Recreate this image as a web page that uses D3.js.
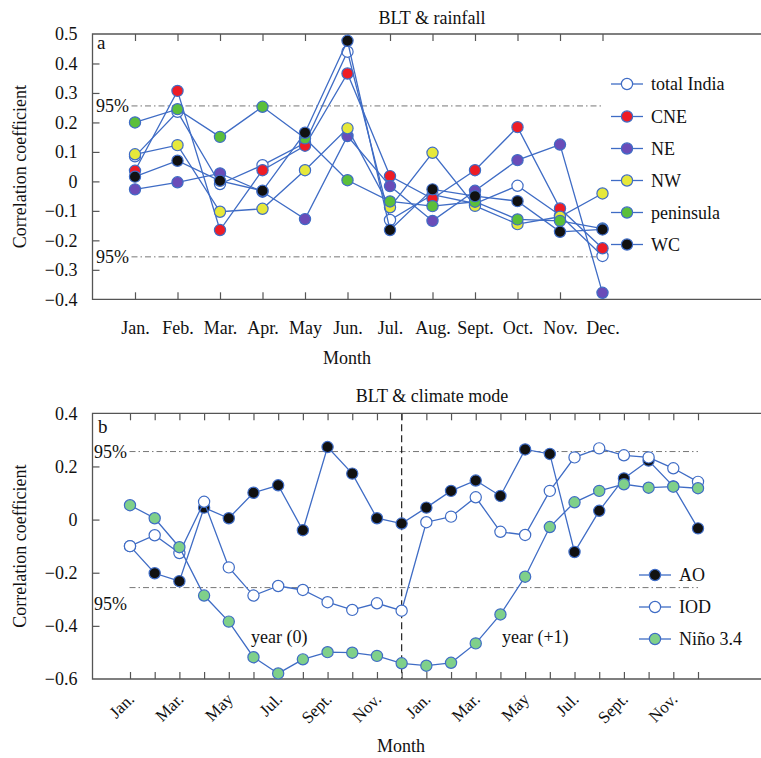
<!DOCTYPE html>
<html>
<head>
<meta charset="utf-8">
<script src="https://cdn.jsdelivr.net/npm/d3@7"></script>
<style>
  body { margin: 0; background: #fff; }
  svg text { font-family: "Liberation Serif", "DejaVu Serif", serif; fill: #111; }
</style>
</head>
<body>
<svg id="chart" width="761" height="758" font-family="Liberation Serif, serif"></svg>
<script>
// ---- panel a data: BLT & rainfall ----
var monthsA = ["Jan.", "Feb.", "Mar.", "Apr.", "May", "Jun.", "Jul.", "Aug.", "Sept.", "Oct.", "Nov.", "Dec."];
var totalIndia = [0.085, 0.236, -0.009, 0.055, 0.13, 0.44, -0.131, -0.045, -0.075, -0.015, -0.115, -0.253];
var CNE = [0.036, 0.307, -0.165, 0.038, 0.121, 0.366, 0.018, -0.059, 0.038, 0.184, -0.092, -0.227];
var NE = [-0.027, -0.003, 0.027, -0.035, -0.128, 0.154, -0.016, -0.134, -0.032, 0.072, 0.125, -0.378];
var NW = [0.092, 0.123, -0.103, -0.093, 0.038, 0.18, -0.088, 0.097, -0.083, -0.145, -0.12, -0.041];
var peninsula = [0.20, 0.245, 0.151, 0.253, 0.146, 0.004, -0.068, -0.084, -0.069, -0.129, -0.134, -0.16];
var WC = [0.016, 0.07, 0.002, -0.032, 0.165, 0.477, -0.165, -0.027, -0.05, -0.067, -0.171, -0.163];
var yTicksA = [-0.4, -0.3, -0.2, -0.1, 0, 0.1, 0.2, 0.3, 0.4, 0.5];
var yLabelsA = ["\u22120.4", "\u22120.3", "\u22120.2", "\u22120.1", "0", "0.1", "0.2", "0.3", "0.4", "0.5"];

// ---- panel b data: BLT & climate mode (year 0 then year +1) ----
var monthLabelsB = ["Jan.", "Mar.", "May", "Jul.", "Sept.", "Nov.", "Jan.", "Mar.", "May", "Jul.", "Sept.", "Nov."];
var AO = [-0.10, -0.202, -0.232, 0.045, 0.005, 0.101, 0.129, -0.040, 0.273, 0.173, 0.005, -0.015,
          0.045, 0.108, 0.147, 0.089, 0.264, 0.247, -0.122, 0.033, 0.155, 0.222, 0.125, -0.033];
var IOD = [-0.10, -0.059, -0.126, 0.067, -0.180, -0.286, -0.250, -0.265, -0.311, -0.340, -0.315, -0.343,
           -0.010, 0.011, 0.084, -0.046, -0.058, 0.108, 0.234, 0.268, 0.242, 0.234, 0.193, 0.142];
var nino34 = [0.054, 0.005, -0.104, -0.286, -0.384, -0.518, -0.579, -0.526, -0.499, -0.501, -0.513, -0.541,
              -0.550, -0.539, -0.466, -0.357, -0.215, -0.028, 0.065, 0.108, 0.133, 0.120, 0.124, 0.118];
var yTicksB = [-0.6, -0.4, -0.2, 0, 0.2, 0.4];
var yLabelsB = ["\u22120.6", "\u22120.4", "\u22120.2", "0", "0.2", "0.4"];
var sig95 = 0.256;

var lineBlue = "#3f6cc5";
var svg = d3.select("#chart");

function frame(g, left, top, bottom) {
  g.append("path")
    .attr("d", "M800," + top + "H" + left + "V" + bottom + "H800")
    .attr("fill", "none").attr("stroke", "#555").attr("stroke-width", 1.3);
}

function series(g, x, y, vals, xs, fill) {
  var line = d3.line().x(function(d, i) { return x(xs[i]); }).y(function(d) { return y(d); });
  g.append("path").datum(vals).attr("d", line)
    .attr("fill", "none").attr("stroke", lineBlue).attr("stroke-width", 1.3);
  g.selectAll(null).data(vals).enter().append("circle")
    .attr("cx", function(d, i) { return x(xs[i]); })
    .attr("cy", function(d) { return y(d); })
    .attr("r", 5.6)
    .attr("fill", fill).attr("stroke", lineBlue).attr("stroke-width", 1.2);
}

function legend(g, x0, rows) {
  rows.forEach(function(r) {
    g.append("line").attr("x1", x0).attr("x2", x0 + 32).attr("y1", r.y).attr("y2", r.y)
      .attr("stroke", lineBlue).attr("stroke-width", 1.3);
    g.append("circle").attr("cx", x0 + 16).attr("cy", r.y).attr("r", 5.6)
      .attr("fill", r.fill).attr("stroke", lineBlue).attr("stroke-width", 1.2);
    g.append("text").attr("x", x0 + 40).attr("y", r.y).attr("dy", "0.35em")
      .style("font-size", "18px").text(r.name);
  });
}

function styleAxis(a) {
  a.attr("font-family", null);
  a.select(".domain").remove();
  a.selectAll(".tick line").attr("stroke", "#555").attr("stroke-width", 1.2);
  a.selectAll("text").style("font-size", "18px").attr("fill", "#111");
}

// ================= panel a =================
(function() {
  var left = 92.5, top = 34, bottom = 299.3;
  var x = d3.scaleLinear().domain([0, 12]).range([left, 602.5]);
  var y = d3.scaleLinear().domain([-0.4, 0.5]).range([bottom, top]);
  var g = svg.append("g");
  var pos = d3.range(1, 13);

  // significance lines
  [sig95, -sig95].forEach(function(v) {
    g.append("line").attr("x1", 131.5).attr("x2", x(12)).attr("y1", y(v)).attr("y2", y(v))
      .attr("stroke", "#777").attr("stroke-width", 1).attr("stroke-dasharray", "6,3,1.5,3");
    g.append("text").attr("x", 96).attr("y", y(v)).attr("dy", "0.35em")
      .style("font-size", "18px").text("95%");
  });

  var ax = g.append("g").attr("transform", "translate(" + left + ",0)")
    .call(d3.axisLeft(y).tickValues(yTicksA).tickSize(-7).tickPadding(15)
      .tickFormat(function(d, i) { return yLabelsA[i]; }));
  styleAxis(ax);
  ax.selectAll(".tick").filter(function(d) { return d === 0.5 || d === -0.4; }).select("line").remove();

  var bx = g.append("g").attr("transform", "translate(0," + bottom + ")")
    .call(d3.axisBottom(x).tickValues(pos).tickSize(-7).tickPadding(22)
      .tickFormat(function(d) { return monthsA[d - 1]; }));
  styleAxis(bx);
  var tx = g.append("g").attr("transform", "translate(0," + top + ")")
    .call(d3.axisTop(x).tickValues(pos).tickSize(-7).tickFormat(""));
  styleAxis(tx);

  frame(g, left, top, bottom);

  series(g, x, y, totalIndia, pos, "#ffffff");
  series(g, x, y, CNE, pos, "#ee1c25");
  series(g, x, y, NE, pos, "#6a4cb8");
  series(g, x, y, NW, pos, "#e6e83a");
  series(g, x, y, peninsula, pos, "#5bbf3a");
  series(g, x, y, WC, pos, "#111111");

  legend(g, 611, [
    { name: "total India", fill: "#ffffff", y: 84 },
    { name: "CNE", fill: "#ee1c25", y: 116.5 },
    { name: "NE", fill: "#6a4cb8", y: 148.5 },
    { name: "NW", fill: "#e6e83a", y: 180.5 },
    { name: "peninsula", fill: "#5bbf3a", y: 212.5 },
    { name: "WC", fill: "#111111", y: 244.5 }
  ]);

  g.append("text").attr("x", 97).attr("y", 48.5).style("font-size", "19px").text("a");
  g.append("text").attr("x", 432).attr("y", 24).attr("text-anchor", "middle")
    .style("font-size", "18px").text("BLT & rainfall");
  g.append("text").attr("x", 347).attr("y", 364).attr("text-anchor", "middle")
    .style("font-size", "18px").text("Month");
  g.append("text").attr("transform", "translate(26," + ((top + bottom) / 2) + ") rotate(-90)")
    .attr("text-anchor", "middle").style("font-size", "18px").text("Correlation coefficient");
})();

// ================= panel b =================
(function() {
  var left = 92.5, top = 413.3, bottom = 679;
  var x = d3.scaleLinear().domain([0, 23]).range([130, 698]);
  var y = d3.scaleLinear().domain([-0.6, 0.4]).range([bottom, top]);
  var g = svg.append("g");
  var pos = d3.range(0, 24);

  g.append("line").attr("x1", 129.5).attr("x2", x(23)).attr("y1", y(sig95)).attr("y2", y(sig95))
    .attr("stroke", "#777").attr("stroke-width", 1).attr("stroke-dasharray", "6,3,1.5,3");
  g.append("line").attr("x1", 129.5).attr("x2", x(23)).attr("y1", y(-sig95)).attr("y2", y(-sig95))
    .attr("stroke", "#777").attr("stroke-width", 1).attr("stroke-dasharray", "6,3,1.5,3");
  g.append("text").attr("x", 94).attr("y", y(sig95)).attr("dy", "0.35em")
    .style("font-size", "18px").text("95%");
  g.append("text").attr("x", 94).attr("y", y(-sig95) + 16).attr("dy", "0.35em")
    .style("font-size", "18px").text("95%");

  // year boundary
  g.append("line").attr("x1", x(11)).attr("x2", x(11)).attr("y1", top).attr("y2", bottom)
    .attr("stroke", "#222").attr("stroke-width", 1.2).attr("stroke-dasharray", "7,4");

  var ax = g.append("g").attr("transform", "translate(" + left + ",0)")
    .call(d3.axisLeft(y).tickValues(yTicksB).tickSize(-7).tickPadding(15)
      .tickFormat(function(d, i) { return yLabelsB[i]; }));
  styleAxis(ax);
  ax.selectAll(".tick").filter(function(d) { return d === 0.4 || d === -0.6; }).select("line").remove();

  var bx = g.append("g").attr("transform", "translate(0," + bottom + ")")
    .call(d3.axisBottom(x).tickValues(pos).tickSize(-7).tickFormat(""));
  styleAxis(bx);
  var tx = g.append("g").attr("transform", "translate(0," + top + ")")
    .call(d3.axisTop(x).tickValues(pos).tickSize(-7).tickFormat(""));
  styleAxis(tx);

  monthLabelsB.forEach(function(lab, k) {
    var xi = x(k * 2);
    g.append("text").attr("transform", "translate(" + (xi + 1) + "," + (bottom + 17) + ") rotate(-45)")
      .attr("text-anchor", "end").attr("dy", "0.35em").style("font-size", "17px").text(lab);
  });

  frame(g, left, top, bottom);

  series(g, x, y, AO, pos, "#111111");
  series(g, x, y, IOD, pos, "#ffffff");
  series(g, x, y, nino34, pos, "#7fd08a");

  legend(g, 639, [
    { name: "AO", fill: "#111111", y: 575 },
    { name: "IOD", fill: "#ffffff", y: 607 },
    { name: "Ni\u00f1o 3.4", fill: "#7fd08a", y: 639 }
  ]);

  g.append("text").attr("x", 251).attr("y", 643).style("font-size", "18px").text("year (0)");
  g.append("text").attr("x", 502).attr("y", 643).style("font-size", "18px").text("year (+1)");
  g.append("text").attr("x", 98).attr("y", 433).style("font-size", "19px").text("b");
  g.append("text").attr("x", 432).attr("y", 401.5).attr("text-anchor", "middle")
    .style("font-size", "18px").text("BLT & climate mode");
  g.append("text").attr("x", 401).attr("y", 752).attr("text-anchor", "middle")
    .style("font-size", "18px").text("Month");
  g.append("text").attr("transform", "translate(26," + ((top + bottom) / 2) + ") rotate(-90)")
    .attr("text-anchor", "middle").style("font-size", "18px").text("Correlation coefficient");
})();
</script>
</body>
</html>
